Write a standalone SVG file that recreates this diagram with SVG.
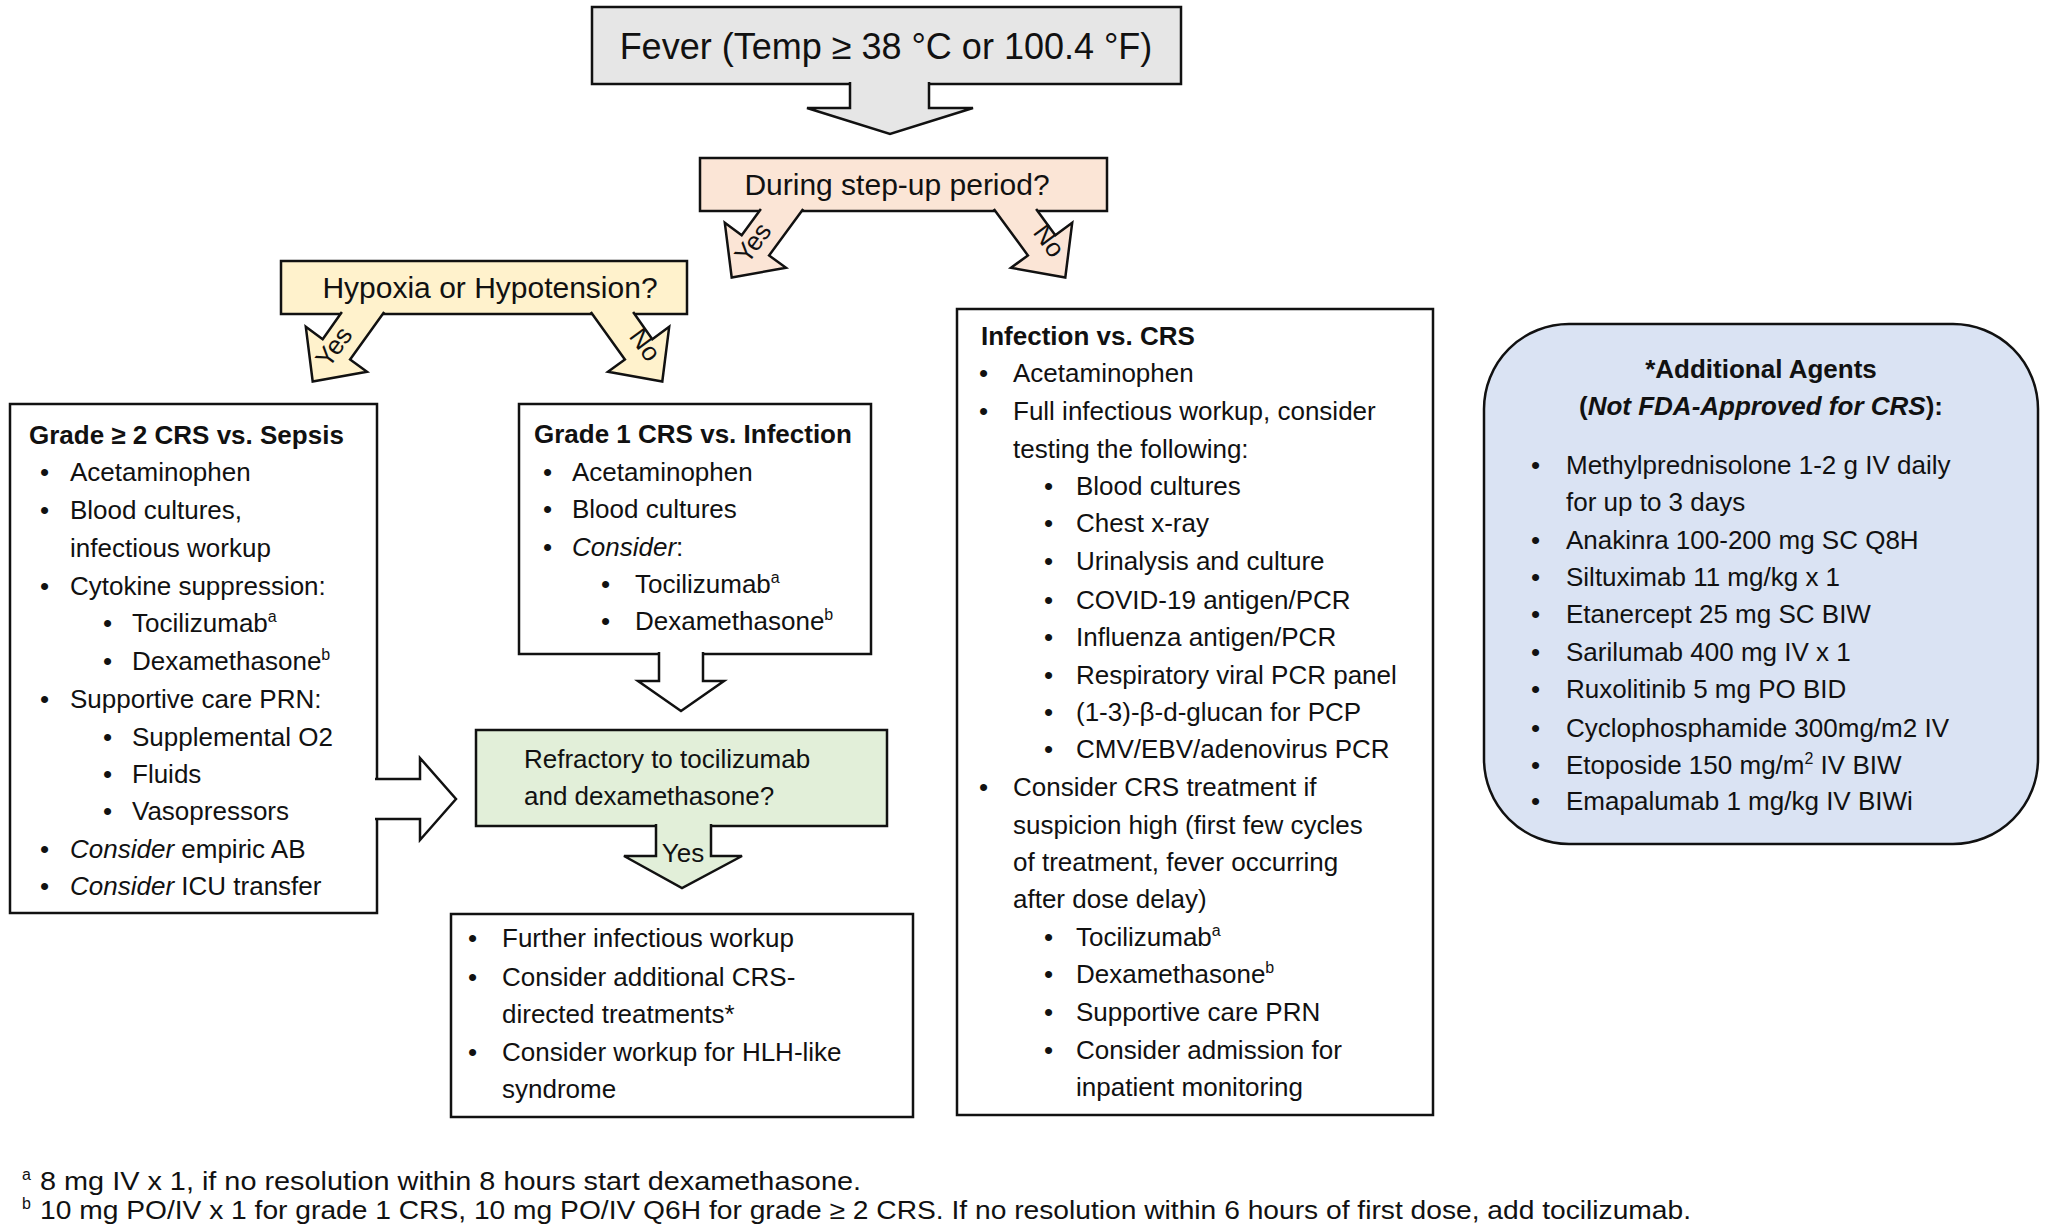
<svg xmlns="http://www.w3.org/2000/svg" width="2056" height="1226" viewBox="0 0 2056 1226">
<style>
text{font-family:"Liberation Sans",Arial,sans-serif;font-size:26px;fill:#111}
.b{font-weight:bold}
.i{font-style:italic}
.box{stroke:#111;stroke-width:2.5}
.arr{stroke:#111;stroke-width:2.5;stroke-linejoin:miter}
.sup{font-size:16px}
.lbl{font-size:26px}
.fn{font-size:26px}
</style>
<rect width="2056" height="1226" fill="#fff"/>

<g id="fever">
<rect class="box" x="592" y="7" width="589" height="77" fill="#e6e6e6"/>
<text x="886" y="59" text-anchor="middle" style="font-size:36px">Fever (Temp ≥ 38 °C or 100.4 °F)</text>
</g>

<g id="stepup">
<rect class="box" x="700" y="158" width="407" height="53" fill="#fbe5d6"/>
<text x="897" y="195" text-anchor="middle" style="font-size:30px">During step-up period?</text>
</g>

<g id="hypoxia">
<rect class="box" x="281" y="261" width="406" height="53" fill="#fff2cc"/>
<text x="490" y="298" text-anchor="middle" style="font-size:30px">Hypoxia or Hypotension?</text>
</g>

<g id="grade2">
<rect class="box" x="10" y="404" width="367" height="509" fill="#fff"/>
<text class="b" x="29" y="444">Grade ≥ 2 CRS vs. Sepsis</text>
<text x="40" y="481">•</text><text x="70" y="481">Acetaminophen</text>
<text x="40" y="519">•</text><text x="70" y="519">Blood cultures,</text>
<text x="70" y="557">infectious workup</text>
<text x="40" y="595">•</text><text x="70" y="595">Cytokine suppression:</text>
<text x="103" y="632">•</text><text x="132" y="632">Tocilizumab<tspan class="sup" dy="-10">a</tspan></text>
<text x="103" y="670">•</text><text x="132" y="670">Dexamethasone<tspan class="sup" dy="-10">b</tspan></text>
<text x="40" y="708">•</text><text x="70" y="708">Supportive care PRN:</text>
<text x="103" y="746">•</text><text x="132" y="746">Supplemental O2</text>
<text x="103" y="783">•</text><text x="132" y="783">Fluids</text>
<text x="103" y="820">•</text><text x="132" y="820">Vasopressors</text>
<text x="40" y="858">•</text><text x="70" y="858"><tspan class="i">Consider</tspan> empiric AB</text>
<text x="40" y="895">•</text><text x="70" y="895"><tspan class="i">Consider</tspan> ICU transfer</text>
</g>

<g id="grade1">
<rect class="box" x="519" y="404" width="352" height="250" fill="#fff"/>
<text class="b" x="534" y="443">Grade 1 CRS vs. Infection</text>
<text x="543" y="481">•</text><text x="572" y="481">Acetaminophen</text>
<text x="543" y="518">•</text><text x="572" y="518">Blood cultures</text>
<text x="543" y="556">•</text><text x="572" y="556"><tspan class="i">Consider</tspan>:</text>
<text x="601" y="593">•</text><text x="635" y="593">Tocilizumab<tspan class="sup" dy="-10">a</tspan></text>
<text x="601" y="630">•</text><text x="635" y="630">Dexamethasone<tspan class="sup" dy="-10">b</tspan></text>
</g>

<g id="refractory">
<rect class="box" x="476" y="730" width="411" height="96" fill="#e2efd9"/>
<text x="524" y="768">Refractory to tocilizumab</text>
<text x="524" y="805">and dexamethasone?</text>
</g>

<g id="further">
<rect class="box" x="451" y="914" width="462" height="203" fill="#fff"/>
<text x="468" y="947">•</text><text x="502" y="947">Further infectious workup</text>
<text x="468" y="986">•</text><text x="502" y="986">Consider additional CRS-</text>
<text x="502" y="1023">directed treatments*</text>
<text x="468" y="1061">•</text><text x="502" y="1061">Consider workup for HLH-like</text>
<text x="502" y="1098">syndrome</text>
</g>

<g id="infection">
<rect class="box" x="957" y="309" width="476" height="806" fill="#fff"/>
<text class="b" x="981" y="345">Infection vs. CRS</text>
<text x="979" y="382">•</text><text x="1013" y="382">Acetaminophen</text>
<text x="979" y="420">•</text><text x="1013" y="420">Full infectious workup, consider</text>
<text x="1013" y="458">testing the following:</text>
<text x="1044" y="495">•</text><text x="1076" y="495">Blood cultures</text>
<text x="1044" y="532">•</text><text x="1076" y="532">Chest x-ray</text>
<text x="1044" y="570">•</text><text x="1076" y="570">Urinalysis and culture</text>
<text x="1044" y="609">•</text><text x="1076" y="609">COVID-19 antigen/PCR</text>
<text x="1044" y="646">•</text><text x="1076" y="646">Influenza antigen/PCR</text>
<text x="1044" y="684">•</text><text x="1076" y="684">Respiratory viral PCR panel</text>
<text x="1044" y="721">•</text><text x="1076" y="721">(1-3)-β-d-glucan for PCP</text>
<text x="1044" y="758">•</text><text x="1076" y="758">CMV/EBV/adenovirus PCR</text>
<text x="979" y="796">•</text><text x="1013" y="796">Consider CRS treatment if</text>
<text x="1013" y="834">suspicion high (first few cycles</text>
<text x="1013" y="871">of treatment, fever occurring</text>
<text x="1013" y="908">after dose delay)</text>
<text x="1044" y="946">•</text><text x="1076" y="946">Tocilizumab<tspan class="sup" dy="-10">a</tspan></text>
<text x="1044" y="983">•</text><text x="1076" y="983">Dexamethasone<tspan class="sup" dy="-10">b</tspan></text>
<text x="1044" y="1021">•</text><text x="1076" y="1021">Supportive care PRN</text>
<text x="1044" y="1059">•</text><text x="1076" y="1059">Consider admission for</text>
<text x="1076" y="1096">inpatient monitoring</text>
</g>

<g id="agents">
<rect class="box" x="1484" y="324" width="554" height="520" rx="85" ry="85" fill="#dae3f3"/>
<text class="b" x="1761" y="378" text-anchor="middle">*Additional Agents</text>
<text class="b" x="1761" y="415" text-anchor="middle">(<tspan class="i">Not FDA-Approved for CRS</tspan>):</text>
<text x="1531" y="474">•</text><text x="1566" y="474">Methylprednisolone 1-2 g IV daily</text>
<text x="1566" y="511">for up to 3 days</text>
<text x="1531" y="549">•</text><text x="1566" y="549">Anakinra 100-200 mg SC Q8H</text>
<text x="1531" y="586">•</text><text x="1566" y="586">Siltuximab 11 mg/kg x 1</text>
<text x="1531" y="623">•</text><text x="1566" y="623">Etanercept 25 mg SC BIW</text>
<text x="1531" y="661">•</text><text x="1566" y="661">Sarilumab 400 mg IV x 1</text>
<text x="1531" y="698">•</text><text x="1566" y="698">Ruxolitinib 5 mg PO BID</text>
<text x="1531" y="737">•</text><text x="1566" y="737">Cyclophosphamide 300mg/m2 IV</text>
<text x="1531" y="774">•</text><text x="1566" y="774">Etoposide 150 mg/m<tspan class="sup" dy="-10">2</tspan><tspan dy="10"> IV BIW</tspan></text>
<text x="1531" y="810">•</text><text x="1566" y="810">Emapalumab 1 mg/kg IV BIWi</text>
</g>

<g id="connectors">
<path class="arr" fill="#e6e6e6" d="M929,82 L929,108 L973,108 L890,134 L807,108 L850,108 L850,82"/>
<path class="arr" fill="#fbe5d6" d="M803.2,209 L769.1,255.4 L786,267.8 L731.7,277.5 L724.8,222.8 L741.7,235.2 L760.9,209"/>
<text class="lbl" transform="translate(760,248) rotate(-53.7)" text-anchor="middle">Yes</text>
<path class="arr" fill="#fbe5d6" d="M993.8,209 L1027.9,255.4 L1011,267.8 L1065.3,277.5 L1072.2,222.8 L1055.3,235.2 L1036.1,209"/>
<text class="lbl" transform="translate(1042,246) rotate(53.7)" text-anchor="middle">No</text>
<path class="arr" fill="#fff2cc" d="M384.2,312 L350.1,359.4 L367,371.8 L312.7,381.5 L305.8,326.8 L322.7,339.2 L341.9,312"/>
<text class="lbl" transform="translate(341,352) rotate(-53.7)" text-anchor="middle">Yes</text>
<path class="arr" fill="#fff2cc" d="M590.8,312 L624.9,359.4 L608,371.8 L662.3,381.5 L669.2,326.8 L652.3,339.2 L633.1,312"/>
<text class="lbl" transform="translate(638,350) rotate(53.7)" text-anchor="middle">No</text>
<path class="arr" fill="#fff" d="M703,652 L703,681 L724,681 L681,711 L638,681 L659,681 L659,652"/>
<path class="arr" fill="#fff" d="M375,779 L420,779 L420,758 L456,799 L420,840 L420,819 L375,819"/>
<path class="arr" fill="#e2efd9" d="M711,824 L711,856 L742,856 L682,888 L624,856 L656,856 L656,824"/>
<text class="lbl" x="683" y="862" text-anchor="middle">Yes</text>
</g>

<g id="footnotes">
<text class="fn" x="22" y="1180" style="font-size:16px">a</text>
<text class="fn" x="40" y="1190" textLength="821" lengthAdjust="spacingAndGlyphs">8 mg IV x 1, if no resolution within 8 hours start dexamethasone.</text>
<text class="fn" x="22" y="1209" style="font-size:16px">b</text>
<text class="fn" x="40" y="1219" textLength="1651" lengthAdjust="spacingAndGlyphs">10 mg PO/IV x 1 for grade 1 CRS, 10 mg PO/IV Q6H for grade ≥ 2 CRS. If no resolution within 6 hours of first dose, add tocilizumab.</text>
</g>
</svg>
